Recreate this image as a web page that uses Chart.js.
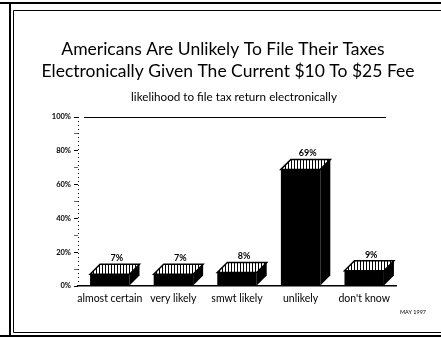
<!DOCTYPE html>
<html>
<head>
<meta charset="utf-8">
<script src="https://cdn.jsdelivr.net/npm/chart.js@4"></script>
<style>
  html, body { margin: 0; padding: 0; background: #fff; }
  #wrap { width: 441px; height: 339px; position: relative; }
</style>
</head>
<body>
<div id="wrap"><canvas id="chart" width="441" height="339"></canvas></div>
<script>
var categories = ['almost certain', 'very likely', 'smwt likely', 'unlikely', "don't know"];
var values = [7, 7, 8, 69, 9];
var yTicks = [0, 20, 40, 60, 80, 100];
var titleLines = ['Americans Are Unlikely To File Their Taxes', 'Electronically Given The Current $10 To $25 Fee'];
var subtitleText = 'likelihood to file tax return electronically';
var dateText = 'MAY 1997';

var FONT = 'Lato, "Open Sans", sans-serif';
var DEPTH = 10;

function hatchPattern(ctx) {
  var c = document.createElement('canvas');
  c.width = 3; c.height = 3;
  var p = c.getContext('2d');
  p.fillStyle = '#fff';
  p.fillRect(0, 0, 3, 3);
  p.fillStyle = '#000';
  p.fillRect(0, 0, 1, 3);
  return ctx.createPattern(c, 'repeat');
}

var framePlugin = {
  id: 'frame',
  beforeDraw: function (chart) {
    var ctx = chart.ctx;
    ctx.save();
    ctx.fillStyle = '#fff';
    ctx.fillRect(0, 0, chart.width, chart.height);
    ctx.strokeStyle = '#000';
    ctx.lineWidth = 2;
    ctx.beginPath();
    ctx.moveTo(0, 3); ctx.lineTo(441, 3);
    ctx.moveTo(10, 3); ctx.lineTo(10, 336);
    ctx.moveTo(0, 336); ctx.lineTo(441, 336);
    ctx.stroke();
    ctx.lineWidth = 1;
    ctx.beginPath();
    ctx.moveTo(13.5, 10.5); ctx.lineTo(441, 10.5);
    ctx.moveTo(13.5, 10.5); ctx.lineTo(13.5, 332.5);
    ctx.moveTo(13.5, 332.5); ctx.lineTo(441, 332.5);
    ctx.stroke();

    ctx.fillStyle = '#000';
    ctx.textAlign = 'center';
    ctx.textBaseline = 'alphabetic';
    ctx.font = '17.5px ' + FONT;
    ctx.fillText(titleLines[0], 223, 55);
    ctx.fillText(titleLines[1], 228, 77);
    ctx.font = '11.7px ' + FONT;
    ctx.fillText(subtitleText, 234, 101);
    ctx.font = '5.5px ' + FONT;
    ctx.textAlign = 'left';
    ctx.fillText(dateText, 400, 314);

    // axis frame: dotted left axis and top 100% line
    var a = chart.chartArea;
    ctx.strokeStyle = '#000';
    ctx.lineWidth = 1;
    ctx.setLineDash([1, 3]);
    ctx.beginPath();
    ctx.moveTo(a.left + 0.5, a.top);
    ctx.lineTo(a.left + 0.5, a.bottom);
    ctx.stroke();
    ctx.setLineDash([]);
    ctx.beginPath();
    ctx.moveTo(a.left + 6, a.top + 0.5);
    ctx.lineTo(a.right - 10, a.top + 0.5);
    ctx.stroke();
    ctx.restore();
  },
  afterDatasetsDraw: function (chart) {
    var ctx = chart.ctx;
    var meta = chart.getDatasetMeta(0);
    var pat = hatchPattern(ctx);
    ctx.save();
    meta.data.forEach(function (bar, i) {
      var x1 = bar.x - bar.width / 2;
      var x2 = bar.x + bar.width / 2;
      var top = bar.y;
      var base = bar.base;
      ctx.fillStyle = '#000';
      ctx.beginPath();
      ctx.moveTo(x2, base);
      ctx.lineTo(x2 + DEPTH, base - DEPTH);
      ctx.lineTo(x2 + DEPTH, top - DEPTH);
      ctx.lineTo(x2, top);
      ctx.closePath();
      ctx.fill();
      ctx.beginPath();
      ctx.moveTo(x1, top);
      ctx.lineTo(x1 + DEPTH, top - DEPTH);
      ctx.lineTo(x2 + DEPTH, top - DEPTH);
      ctx.lineTo(x2, top);
      ctx.closePath();
      ctx.fillStyle = pat;
      ctx.fill();
      ctx.strokeStyle = '#000';
      ctx.lineWidth = 1.5;
      ctx.stroke();
      ctx.fillStyle = '#000';
      ctx.font = 'bold 9px ' + FONT;
      ctx.textAlign = 'center';
      ctx.fillText(values[i] + '%', bar.x + DEPTH / 2 + 2, top - DEPTH - 3);
    });
    ctx.restore();
  }
};

new Chart(document.getElementById('chart'), {
  type: 'bar',
  data: {
    labels: categories,
    datasets: [{
      data: values,
      backgroundColor: '#000',
      borderWidth: 0,
      categoryPercentage: 1,
      barPercentage: 0.62
    }]
  },
  options: {
    responsive: false,
    animation: false,
    layout: { padding: { left: 20, right: 45, top: 117, bottom: 30 } },
    plugins: {
      legend: { display: false },
      tooltip: { enabled: false }
    },
    scales: {
      x: {
        grid: { display: false },
        border: { display: true, color: '#000', width: 1.5 },
        ticks: {
          color: '#000',
          font: { family: FONT, size: 10.5 },
          padding: -2,
          maxRotation: 0,
          minRotation: 0,
          autoSkip: false
        },
        afterFit: function (scale) { scale.height = 23; }
      },
      y: {
        min: 0,
        max: 100,
        afterBuildTicks: function (scale) {
          var t = [];
          for (var v = 0; v <= 100; v += 10) t.push({ value: v });
          scale.ticks = t;
        },
        afterFit: function (scale) { scale.width = 58; },
        grid: {
          drawOnChartArea: false,
          tickColor: '#000',
          tickLength: 4,
          tickWidth: function (c) { return c.tick && c.tick.value % 20 === 0 ? 1 : 0.6; }
        },
        border: { display: false },
        ticks: {
          color: '#000',
          font: { family: FONT, size: 7.5, weight: 'bold' },
          padding: 3,
          callback: function (v) { return yTicks.indexOf(v) >= 0 ? v + '%' : ''; }
        }
      }
    }
  },
  plugins: [framePlugin]
});
</script>
</body>
</html>
